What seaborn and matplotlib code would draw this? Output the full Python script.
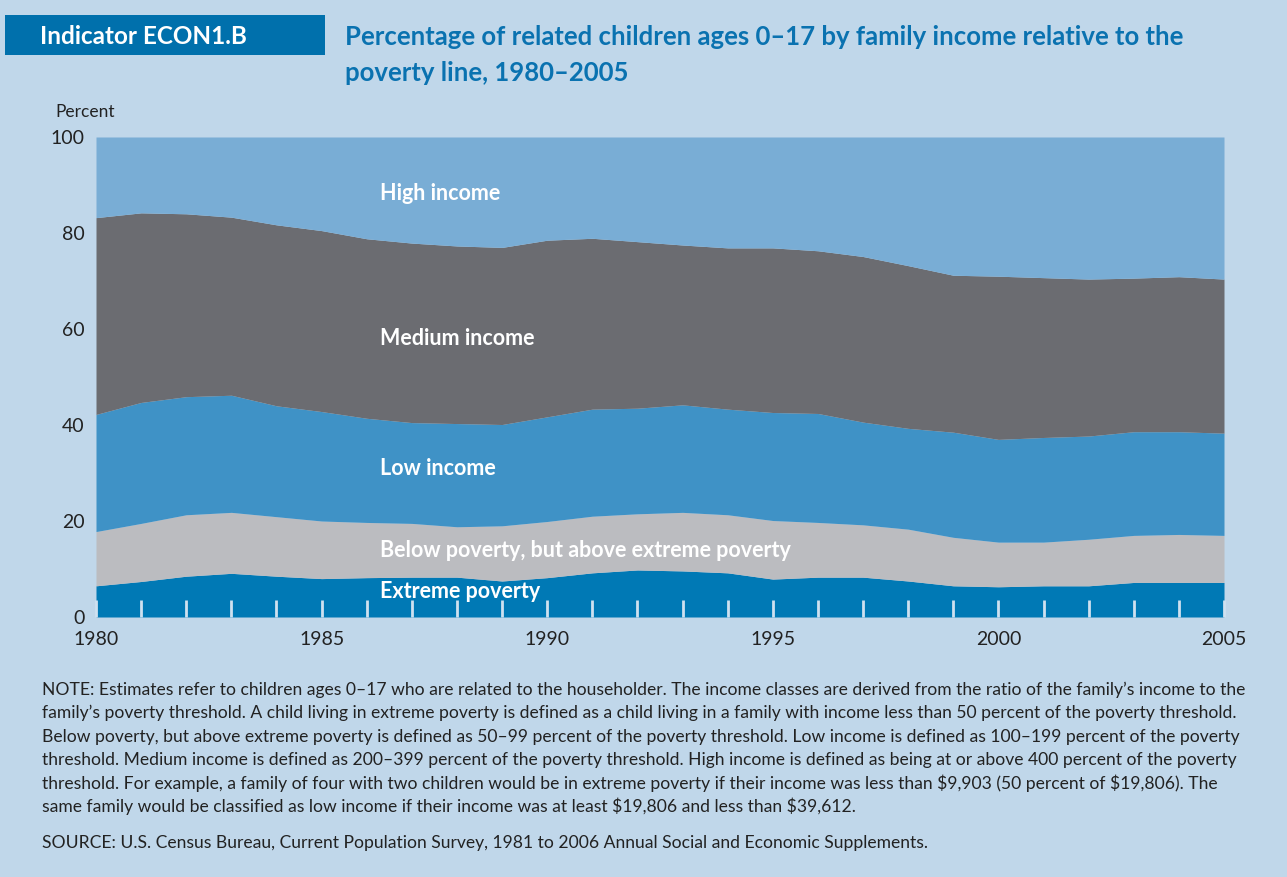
import matplotlib
matplotlib.use("Agg")
import matplotlib.pyplot as plt
import seaborn as sns

# Years and stacked shares (percent of related children ages 0-17)
years = list(range(1980, 2006))
extreme_poverty = [6.5, 7.4, 8.5, 9.1, 8.5, 8.0, 8.2, 8.3, 8.3, 7.5, 8.2, 9.2, 9.8,
                   9.6, 9.2, 7.9, 8.3, 8.3, 7.5, 6.5, 6.3, 6.5, 6.5, 7.2, 7.2, 7.2]
below_poverty_top = [17.8, 19.5, 21.3, 21.8, 20.9, 20.0, 19.7, 19.5, 18.8, 19.0, 19.9, 21.0, 21.5,
                     21.8, 21.3, 20.1, 19.7, 19.2, 18.3, 16.6, 15.6, 15.6, 16.2, 17.0, 17.2, 17.0]
low_income_top = [42.2, 44.7, 45.9, 46.2, 44.0, 42.8, 41.4, 40.5, 40.3, 40.1, 41.7, 43.3, 43.5,
                  44.2, 43.3, 42.6, 42.4, 40.6, 39.3, 38.5, 37.0, 37.4, 37.7, 38.6, 38.6, 38.3]
medium_income_top = [83.2, 84.2, 84.0, 83.3, 81.7, 80.5, 78.8, 77.9, 77.3, 77.0, 78.5, 78.9, 78.2,
                     77.5, 76.9, 76.9, 76.3, 75.1, 73.2, 71.2, 71.0, 70.7, 70.4, 70.6, 70.9, 70.4]

below_poverty = [b - e for b, e in zip(below_poverty_top, extreme_poverty)]
low_income = [l - b for l, b in zip(low_income_top, below_poverty_top)]
medium_income = [m - l for m, l in zip(medium_income_top, low_income_top)]
high_income = [100 - m for m in medium_income_top]

series_labels = ["Extreme poverty", "Below poverty, but above extreme poverty",
                 "Low income", "Medium income", "High income"]
# label anchor (year, percent) for the in-chart captions
label_positions = [(1986.3, 5.4), (1986.3, 13.8), (1986.3, 31.0), (1986.3, 58.0), (1986.3, 88.3)]

y_ticks = [0, 20, 40, 60, 80, 100]
x_ticks = [1980, 1985, 1990, 1995, 2000, 2005]

bg = "#c0d7ea"
palette = ["#0079b5", "#bbbcc0", "#3f92c6", "#6b6c71", "#79add5"]

sns.set_theme(style="white")
plt.rcParams["font.family"] = ["Lato", "DejaVu Sans"]

fig = plt.figure(figsize=(12.87, 8.77), dpi=100, facecolor=bg)
ax = fig.add_axes([96 / 1287, 1 - 617 / 877, (1224 - 96) / 1287, (617 - 137) / 877])
ax.set_facecolor(bg)
ax.set_axisbelow(False)

ax.stackplot(years, extreme_poverty, below_poverty, low_income, medium_income, high_income,
             colors=palette, linewidth=0, antialiased=True)

ax.set_xlim(1980, 2005)
ax.set_ylim(0, 100)
ax.set_yticks(y_ticks)
ax.set_yticklabels([str(v) for v in y_ticks], fontsize=14, color="#222222")
ax.set_xticks(x_ticks)
ax.set_xticklabels([str(v) for v in x_ticks], fontsize=14, color="#222222")
ax.set_xticks(years, minor=True)
ax.tick_params(axis="x", which="both", bottom=True, direction="in", length=12, width=2,
               color="#cfe1f0", pad=10)
ax.tick_params(axis="y", left=False, length=0, pad=8)
for s in ax.spines.values():
    s.set_visible(False)

for text, (lx, ly) in zip(series_labels, label_positions):
    ax.text(lx, ly, text, color="white", fontsize=15.5, fontweight="bold", va="center", ha="left")

fig.text(55 / 1287, 1 - 112 / 877, "Percent", fontsize=12.5, color="#222222", va="center", ha="left")

# header block
fig.patches.append(plt.Rectangle((5 / 1287, 1 - 55 / 877), 320 / 1287, 40 / 877,
                                 transform=fig.transFigure, facecolor="#0070ac", edgecolor="none"))
fig.text(40 / 1287, 1 - 36 / 877, "Indicator ECON1.B", color="white", fontsize=17.5,
         fontweight="bold", va="center", ha="left")
fig.text(345 / 1287, 1 - 37 / 877,
         "Percentage of related children ages 0\u201317 by family income relative to the",
         color="#0a72b0", fontsize=18.5, fontweight="bold", va="center", ha="left")
fig.text(345 / 1287, 1 - 73 / 877, "poverty line, 1980\u20132005",
         color="#0a72b0", fontsize=18.5, fontweight="bold", va="center", ha="left")

note_lines = [
    "NOTE: Estimates refer to children ages 0\u201317 who are related to the householder. The income classes are derived from the ratio of the family\u2019s income to the",
    "family\u2019s poverty threshold. A child living in extreme poverty is defined as a child living in a family with income less than 50 percent of the poverty threshold.",
    "Below poverty, but above extreme poverty is defined as 50\u201399 percent of the poverty threshold. Low income is defined as 100\u2013199 percent of the poverty",
    "threshold. Medium income is defined as 200\u2013399 percent of the poverty threshold. High income is defined as being at or above 400 percent of the poverty",
    "threshold. For example, a family of four with two children would be in extreme poverty if their income was less than \\$9,903 (50 percent of \\$19,806). The",
    "same family would be classified as low income if their income was at least \\$19,806 and less than \\$39,612.",
]
for i, line in enumerate(note_lines):
    fig.text(42 / 1287, 1 - (690 + i * 23.3) / 877, line, fontsize=12.6, color="#222222",
             va="center", ha="left")
fig.text(42 / 1287, 1 - 843 / 877,
         "SOURCE: U.S. Census Bureau, Current Population Survey, 1981 to 2006 Annual Social and Economic Supplements.",
         fontsize=12.6, color="#222222", va="center", ha="left")

fig.savefig("out.png", dpi=100, facecolor=bg)
